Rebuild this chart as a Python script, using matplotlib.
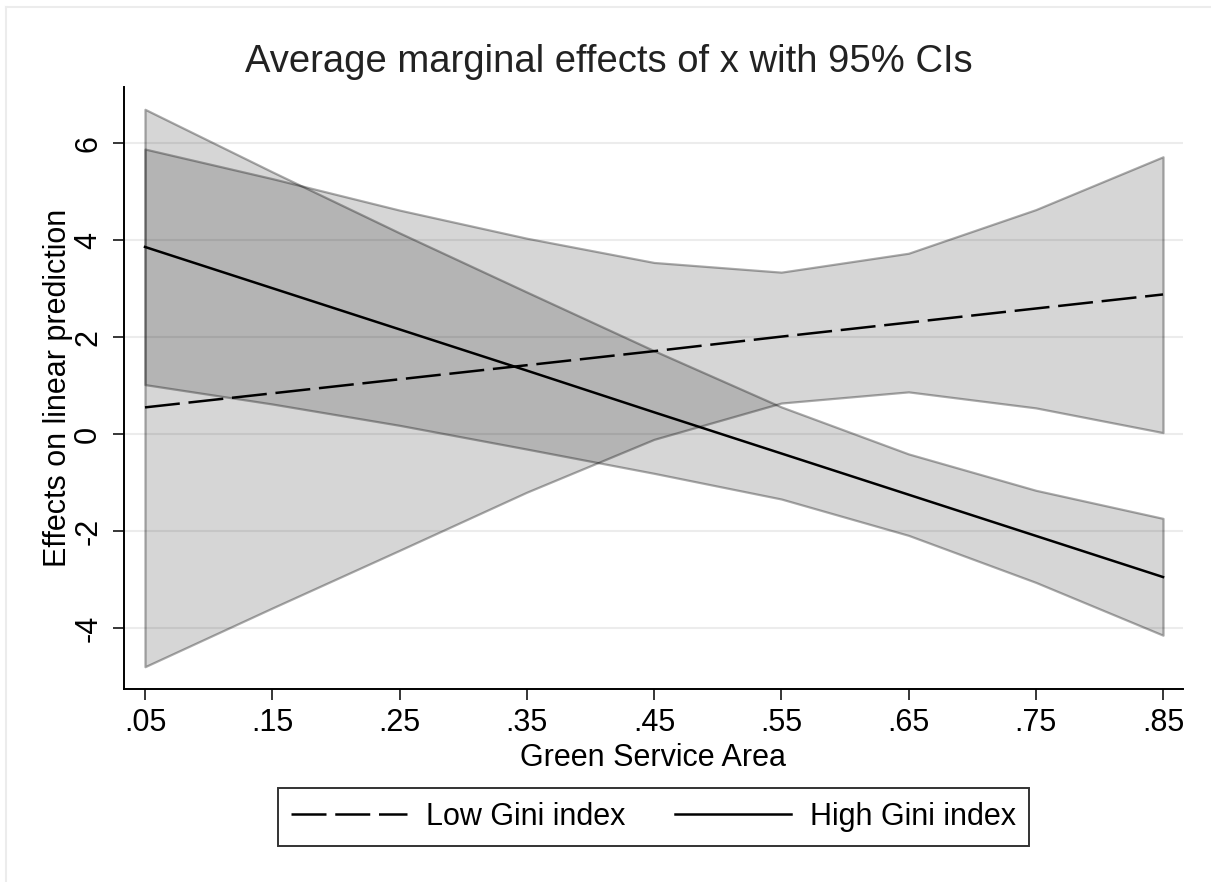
import numpy as np
import matplotlib
matplotlib.use("Agg")
import matplotlib.pyplot as plt
from matplotlib.lines import Line2D

plt.rcParams['font.family'] = ['Liberation Sans', 'DejaVu Sans']

# margins at each value of the moderator
x = [0.05, 0.15, 0.25, 0.35, 0.45, 0.55, 0.65, 0.75, 0.85]
xtick_labels = ['.05', '.15', '.25', '.35', '.45', '.55', '.65', '.75', '.85']

low_est = [0.55, 0.84, 1.13, 1.42, 1.71, 2.01, 2.30, 2.59, 2.88]
low_lo = [-4.80, -3.59, -2.40, -1.20, -0.11, 0.64, 0.87, 0.54, 0.03]
low_hi = [5.88, 5.27, 4.62, 4.04, 3.54, 3.34, 3.73, 4.63, 5.72]

high_est = [3.86, 3.01, 2.16, 1.31, 0.45, -0.40, -1.25, -2.10, -2.95]
high_lo = [1.02, 0.62, 0.18, -0.31, -0.81, -1.34, -2.09, -3.06, -4.15]
high_hi = [6.70, 5.41, 4.15, 2.93, 1.72, 0.56, -0.41, -1.16, -1.74]

yticks = [-4, -2, 0, 2, 4, 6]

W, H = 1211, 882
fig = plt.figure(figsize=(W / 100, H / 100), dpi=100)
ax = fig.add_axes([124 / W, 1 - 689 / H, (1183 - 124) / W, (689 - 87) / H])

band_face = (0.05, 0.05, 0.05, 0.17)
band_edge = (0.0, 0.0, 0.0, 0.33)
ax.fill_between(x, low_lo, low_hi, facecolor=band_face, edgecolor=band_edge,
                linewidth=1.6, zorder=2)
ax.fill_between(x, high_lo, high_hi, facecolor=band_face, edgecolor=band_edge,
                linewidth=1.6, zorder=2)

ax.plot(x, low_est, color='black', lw=1.8, linestyle=(0, (14, 3.5)), zorder=3)
ax.plot(x, high_est, color='black', lw=1.8, zorder=3)

ax.set_xlim(0.0335, 0.8657)
ax.set_ylim(-5.26, 7.16)
ax.set_xticks(x)
ax.set_xticklabels(xtick_labels)
ax.set_yticks(yticks)
ax.set_yticklabels([str(v) for v in yticks], rotation=90, va='center')

for v in yticks:
    ax.axhline(v, color='#ececec', lw=1.5, zorder=1)

for side in ['top', 'right']:
    ax.spines[side].set_visible(False)
for side in ['left', 'bottom']:
    ax.spines[side].set_linewidth(1.4)
ax.tick_params(axis='both', direction='out', length=8, width=1.1,
               labelsize=22, color='black')
ax.tick_params(axis='y', pad=7)
ax.tick_params(axis='x', pad=6)

ax.set_xlabel('Green Service Area', fontsize=22)
ax.xaxis.set_label_coords(0.5, -0.1145)
ax.xaxis.label.set_va('center')
ax.set_ylabel('Effects on linear prediction', fontsize=22)
ax.yaxis.set_label_coords(-0.0625, 0.5)
ax.yaxis.label.set_va('center')

fig.text(609 / W, 1 - 62 / H, 'Average marginal effects of x with 95% CIs',
         fontsize=27.5, color='#222222', ha='center', va='center')

handles = [Line2D([], [], color='black', lw=1.8, linestyle=(0, (14, 3.5))),
           Line2D([], [], color='black', lw=1.8)]
leg = fig.legend(handles, ['Low Gini index', 'High Gini index'], ncol=2,
                 loc='center', bbox_to_anchor=(653.5 / W, 1 - 817 / H),
                 fontsize=22, frameon=True, fancybox=False, edgecolor='black',
                 handlelength=3.8, handletextpad=0.62, columnspacing=1.6,
                 borderpad=0.45)
leg.get_frame().set_linewidth(1.4)

# faint outer border of the graph region
fig.add_artist(Line2D([6 / W, 6 / W], [0, 1 - 7 / H], color='#ececec', lw=1.5))
fig.add_artist(Line2D([6 / W, 1], [1 - 7 / H, 1 - 7 / H], color='#ececec', lw=1.5))

fig.savefig('out.png', dpi=100)
